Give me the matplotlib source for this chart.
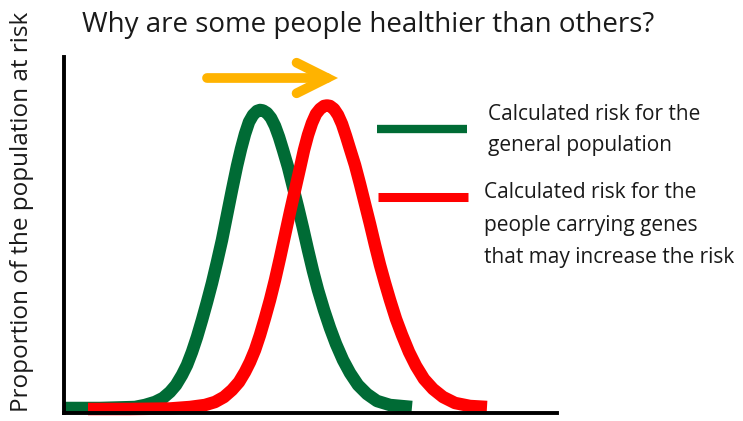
import matplotlib
matplotlib.use("Agg")
import matplotlib.pyplot as plt
from matplotlib.lines import Line2D
from matplotlib.patches import FancyArrowPatch, ArrowStyle

# curve values (x = risk score, y = share of population, arbitrary units)
general_x = [0, 36, 71, 81, 91, 99, 106, 112, 118, 123,
             128, 133, 138, 143, 148, 153, 158, 163, 168, 173,
             177, 181, 185, 189, 193, 196, 199, 203, 207, 211,
             215, 219, 224, 229, 234, 239, 244, 249, 254, 260,
             266, 272, 279, 286, 294, 303, 313, 326, 348]
general_y = [5, 5, 6, 8, 11, 15, 21, 28, 38, 48,
             61, 76, 93, 111, 130, 151, 173, 198, 223, 247,
             264, 279, 291, 298, 302, 303, 302.5, 300, 295, 287,
             276, 263, 246, 226, 206, 185, 163, 142, 123, 103,
             85, 69, 53, 40, 28, 19, 12, 8, 6]

carrier_x = [24, 66, 106, 126, 141, 151, 160, 168, 175, 181,
             186, 191, 196, 201, 206, 211, 216, 221, 226, 231,
             236, 240, 244, 248, 252, 256, 260, 263, 266, 270,
             274, 278, 282, 286, 291, 296, 301, 306, 311, 316,
             321, 326, 332, 338, 345, 352, 360, 369, 379, 391,
             406, 423]
carrier_y = [4, 4, 4.5, 6, 8, 11, 16, 23, 31, 41,
             51, 63, 78, 95, 113, 133, 155, 178, 201, 223,
             245, 263, 278, 290, 299, 304, 307, 307.5, 307, 304,
             298, 289, 277, 264, 248, 229, 209, 189, 168, 148,
             130, 113, 94, 78, 61, 47, 34, 24, 16, 10,
             7, 6]

title = "Why are some people healthier than others?"
ylabel = "Proportion of the population at risk"
general_label = "Calculated risk for the\ngeneral population"
carrier_label = "Calculated risk for the\npeople carrying genes\nthat may increase the risk"

GREEN = "#006b35"
RED = "#ff0000"
ORANGE = "#ffb300"
INK = "#1a1a1a"
FONT = "Open Sans"

W, H = 743, 421
fig = plt.figure(figsize=(W / 100, H / 100), dpi=100)


def fx(px):
    return px / W


def fy(py):
    return 1 - py / H


ax = fig.add_axes([fx(64), fy(413), fx(557) - fx(64), fy(57) - fy(413)])
ax.set_xlim(0, 493)
ax.set_ylim(0, 356)

ax.plot(general_x, general_y, color=GREEN, lw=9, solid_capstyle="butt",
        solid_joinstyle="round", clip_on=False)
ax.plot(carrier_x, carrier_y, color=RED, lw=9, solid_capstyle="butt",
        solid_joinstyle="round", clip_on=False)

for side in ["top", "right"]:
    ax.spines[side].set_visible(False)
for side in ["left", "bottom"]:
    ax.spines[side].set_linewidth(2.8)
    ax.spines[side].set_zorder(3)
ax.set_xticks([])
ax.set_yticks([])

# hand made legend
fig.add_artist(Line2D([fx(377), fx(467)], [fy(129), fy(129)], color=GREEN, lw=6,
                      solid_capstyle="butt", transform=fig.transFigure))
fig.add_artist(Line2D([fx(378), fx(468)], [fy(197), fy(197)], color=RED, lw=6.5,
                      solid_capstyle="butt", transform=fig.transFigure))
fig.text(fx(488), fy(130), general_label, family=FONT, fontsize=15, color=INK,
         ha="left", va="center", linespacing=1.66)
fig.text(fx(484), fy(225), carrier_label, family=FONT, fontsize=15, color=INK,
         ha="left", va="center", linespacing=1.72)

# shift arrow
arrow = FancyArrowPatch((fx(207), fy(78)), (fx(338), fy(78)), transform=fig.transFigure,
                        arrowstyle=ArrowStyle("->", head_length=22, head_width=11),
                        mutation_scale=1, lw=7, color=ORANGE, capstyle="round",
                        joinstyle="miter", shrinkA=0, shrinkB=0)
fig.add_artist(arrow)

fig.text(fx(82), fy(25), title, family=FONT, fontsize=20, color=INK,
         ha="left", va="center")
fig.text(fx(22), fy(212), ylabel, family=FONT, fontsize=17.5, color=INK,
         ha="center", va="center", rotation=90)

fig.savefig("out.png", dpi=100)
